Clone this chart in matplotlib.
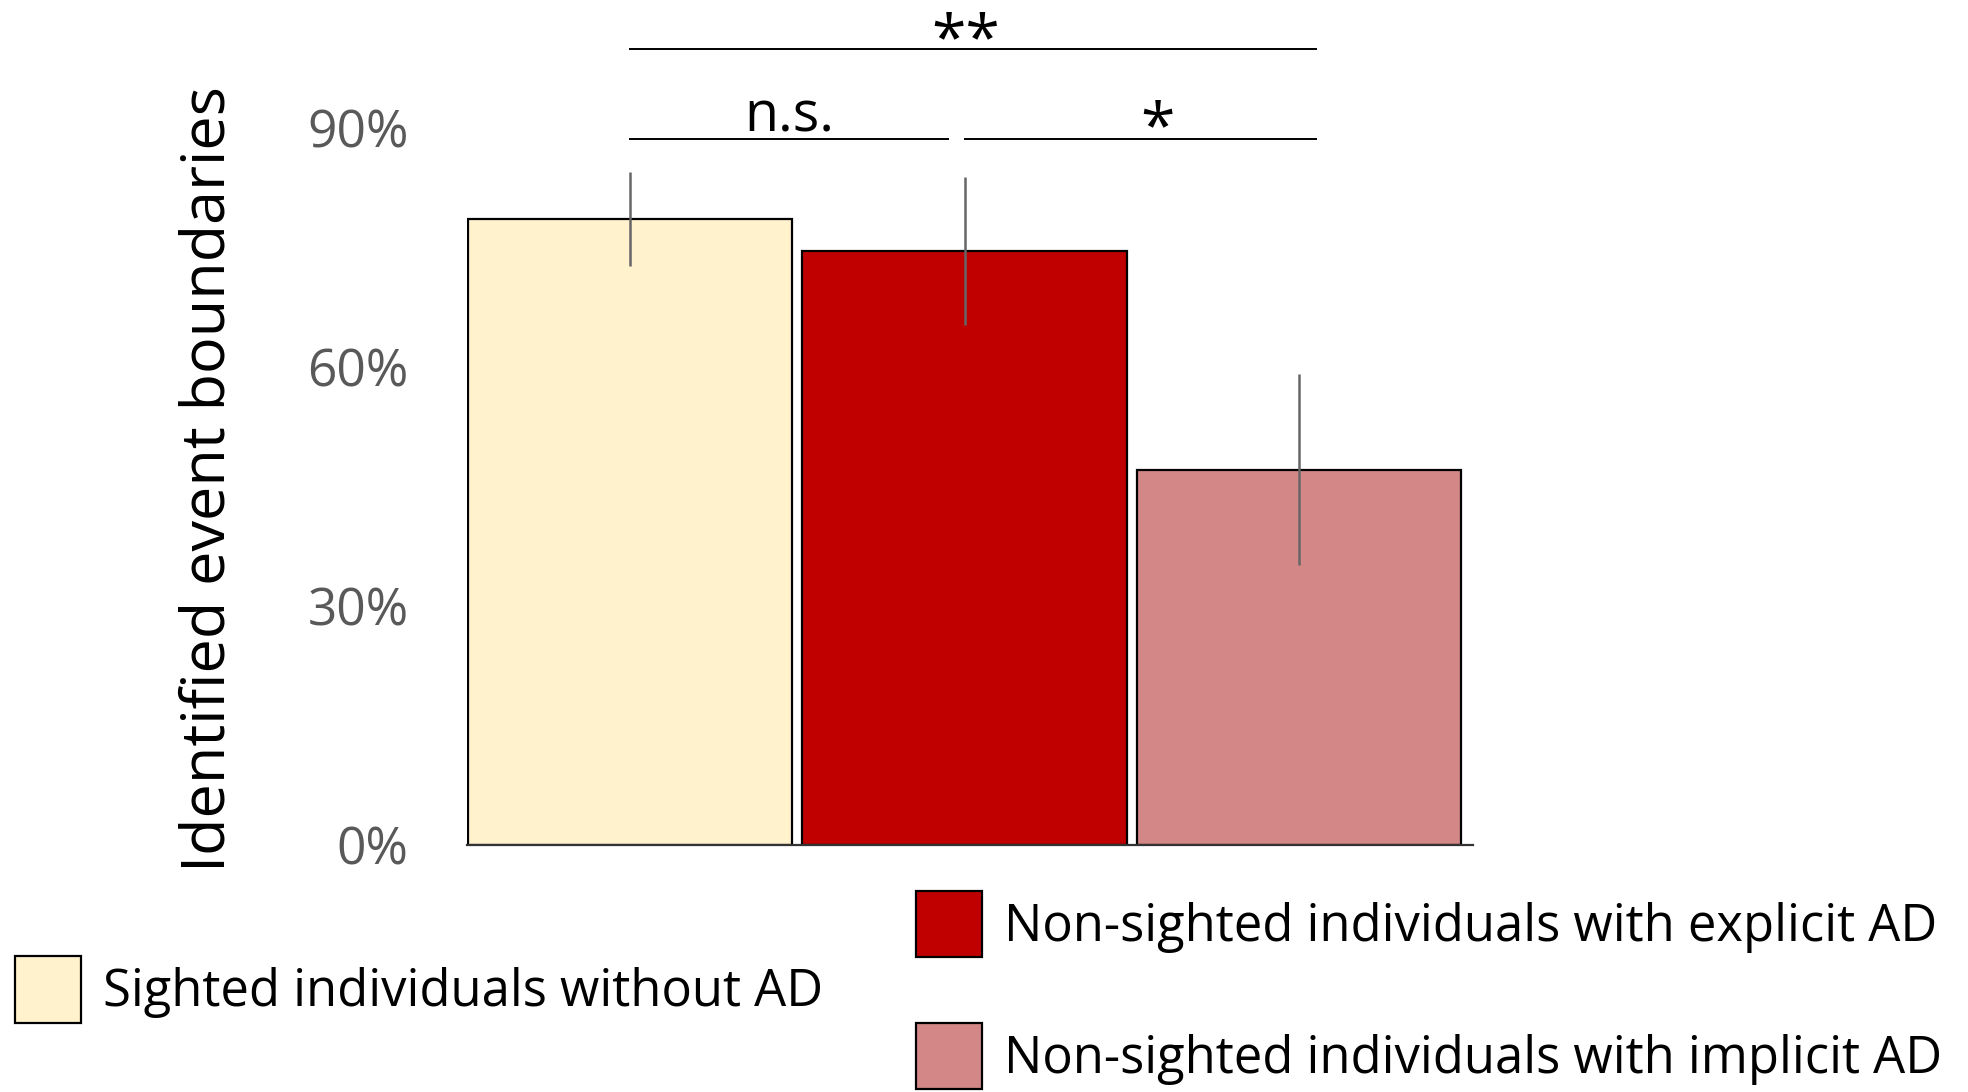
import matplotlib
matplotlib.use("Agg")
import matplotlib.pyplot as plt
from matplotlib.ticker import FixedLocator, PercentFormatter

plt.rcParams['font.family'] = ['Open Sans', 'DejaVu Sans']

# Share of identified event boundaries per group (mean and error)
groups = ["Sighted individuals without AD",
          "Non-sighted individuals with explicit AD",
          "Non-sighted individuals with implicit AD"]
means = [0.786, 0.746, 0.471]
errors = [0.059, 0.093, 0.120]
colors = ["#FFF2CC", "#C00000", "#D38787"]
yticks = [0.0, 0.3, 0.6, 0.9]

# Pairwise comparisons: bracket start/end, bracket height, label, label x/y
brackets = [(0.0, 0.95, 0.887, "n.s.", 0.475, 0.896),
            (1.0, 2.05, 0.887, "*", 1.578, 0.877),
            (0.0, 2.05, 1.0, "**", 1.004, 0.988)]

fig = plt.figure(figsize=(19.68, 10.92), dpi=100)
ax = fig.add_axes([467 / 1968, 1 - 844.7 / 1092, 1006 / 1968, 796 / 1092])

x = list(range(len(groups)))
bars = ax.bar(x, means, width=0.97, color=colors, edgecolor="black",
              linewidth=1.6, label=groups, zorder=2)
ax.errorbar(x, means, yerr=errors, fmt="none", ecolor="#666666",
            elinewidth=1.8, capsize=0, zorder=3)

ax.set_xlim(-0.488, 2.52)
ax.set_ylim(0, 1.0)
ax.yaxis.set_major_locator(FixedLocator(yticks))
ax.yaxis.set_major_formatter(PercentFormatter(1.0, decimals=0))
ax.tick_params(axis="y", length=0, pad=42, labelsize=37, labelcolor="#595959")
ax.tick_params(axis="x", length=0, labelbottom=False)
for side in ("top", "right", "left"):
    ax.spines[side].set_visible(False)
ax.spines["bottom"].set_color("#333333")
ax.spines["bottom"].set_linewidth(1.6)

ax.set_ylabel("Identified event boundaries", fontsize=44, color="black",
              va="center")
ax.yaxis.set_label_coords(-0.257, 0.459)

for x0, x1, h, label, tx, ty in brackets:
    ax.plot([x0, x1], [h, h], color="black", linewidth=1.4, clip_on=False)
    size = 40 if label == "n.s." else 45
    ax.text(tx, ty, label, ha="center", va="baseline",
            fontsize=size, color="black", clip_on=False)

legend_kw = dict(frameon=False, fontsize=36.5, handlelength=1.3,
                 handleheight=1.63, handletextpad=0.43, borderpad=0,
                 borderaxespad=0)
leg1 = fig.legend([bars[0]], [groups[0]], loc="center left",
                  bbox_to_anchor=(15 / 1968, 1 - 989.5 / 1092), **legend_kw)
leg2 = fig.legend([bars[1], bars[2]], groups[1:], loc="upper left",
                  bbox_to_anchor=(916 / 1968, 1 - 891 / 1092),
                  labelspacing=1.3, **legend_kw)

fig.savefig("out.png", dpi=100, facecolor="white")
